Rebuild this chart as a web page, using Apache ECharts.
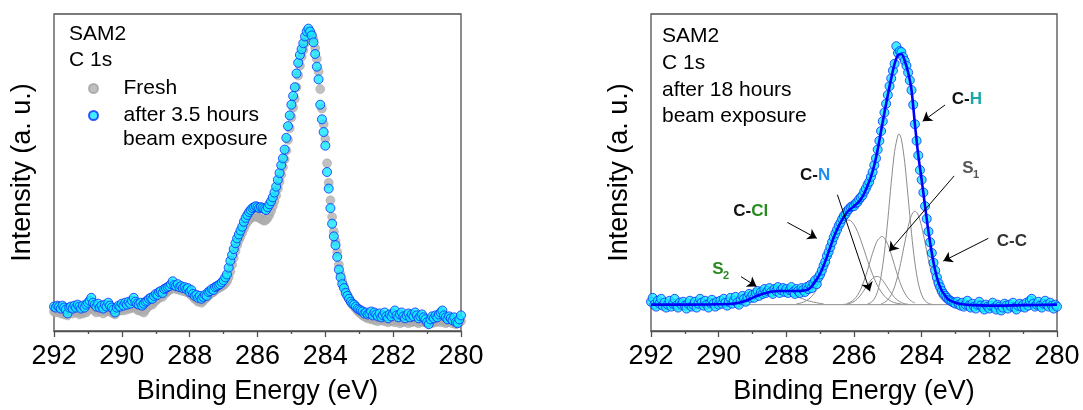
<!DOCTYPE html>
<html><head><meta charset="utf-8">
<script src="https://cdn.jsdelivr.net/npm/echarts@6/dist/echarts.min.js"></script>
<style>html,body{margin:0;padding:0;background:#fff}#c{width:1083px;height:410px}</style>
</head><body><div id="c"></div>
<script>
// ---------- sampling grid of the measured spectra (binding energy, eV) ----------
const energyStart = 292, energyStep = 0.05;
const xTicks = [292, 290, 288, 286, 284, 282, 280];

// ---------- left panel: SAM2 C 1s (intensity, a.u.) ----------
const freshC1s = [
 20,19,22,21,18,20,17,19,16,20, 21,18,20,22,19,17,20,18,21,19,
 22,24,25,23,21,19,22,20,21,18, 22,20,23,21,19,18,17,20,22,21,
 23,21,24,22,25,23,24,26,25,22, 21,23,20,19,22,24,26,28,27,30,
 31,33,34,36,35,38,39,41,42,43, 46,44,43,45,42,43,41,42,40,41,
 38,37,35,33,32,30,31,29,31,33, 34,36,38,39,40,42,43,44,45,46,
 47,49,51,55,61,68,75,82,88,93, 97,101,105,109,112,114,116,117,117,118,
 117,116,115,114,113,114,116,119,123,128, 133,139,146,153,160,168,176,185,196,208,
 219,229,238,250,262,272,281,288,295,301, 305,306,304,299,290,279,266,248,228,212,
 197,172,152,134,117,102,92,81,68,58, 51,46,41,37,33,30,27,25,23,21,
 19,18,16,15,14,13,14,12,13,11, 12,10,13,11,12,10,11,9,12,10,
 11,9,12,10,8,11,9,12,10,8, 11,9,10,12,9,8,10,11,9,10,
 8,9,10,8,11,9,10,12,9,11, 10,8,9,11,10,8,9,7,8,9,10
];
const after3h = [
 25,24,26,25,23,26,24,22,18,24, 25,23,26,24,27,25,23,26,24,27,
 29,31,34,29,27,25,28,24,26,23, 27,25,29,26,24,22,19,24,26,25,
 28,26,29,27,30,28,31,34,30,28, 27,29,26,28,30,31,33,34,33,36,
 38,37,40,41,39,43,44,45,46,48, 51,47,46,48,45,46,44,45,43,44,
 40,42,38,36,37,34,36,33,35,37, 36,40,41,43,42,45,46,47,48,50,
 52,55,58,65,72,78,84,90,95,99, 103,107,112,116,119,122,124,126,127,128,
 127,126,127,126,125,124,127,130,133,137, 142,148,155,162,170,177,186,198,210,221,
 232,241,250,264,275,283,289,295,302,307, 310,307,303,296,284,271,258,232,217,204,
 190,163,146,126,110,97,88,76,63,55, 48,44,39,36,33,30,28,27,25,23,
 22,21,20,18,19,17,18,20,16,19, 17,15,18,14,16,19,15,13,17,15,
 18,21,16,14,17,19,15,13,16,18, 14,17,15,19,16,13,15,17,14,12,
 9,7,12,15,13,16,14,17,19,21, 16,14,12,15,13,11,14,9,8,12,16
];

// ---------- right panel: after 18 h ----------
const after18h = [
 30,34,27,25,31,28,33,26,29,24, 27,31,25,28,33,26,24,29,27,30,
 26,23,28,31,25,27,30,24,28,33, 29,26,31,27,24,29,32,28,25,30,
 27,31,28,33,29,26,30,34,28,31, 35,29,27,32,36,33,30,35,38,34,
 37,34,39,41,36,40,38,43,39,41, 44,40,38,43,41,45,39,42,44,40,
 43,39,42,45,40,38,43,41,39,44, 42,40,45,43,47,44,49,52,48,55,
 58,62,67,71,77,81,86,91,96,100, 104,108,111,115,118,120,123,125,127,128,
 128,131,132,135,137,139,143,146,150,153, 158,163,170,177,186,195,205,215,224,233,
 242,251,259,267,274,292,285,287,286,281, 277,272,265,257,247,232,212,195,180,165,
 155,142,128,115,102,91,80,70,62,55, 49,45,41,38,36,34,32,31,30,29,
 28,30,27,26,29,25,27,31,26,24, 28,25,23,27,30,26,24,22,27,25,
 23,26,29,24,22,27,25,21,24,28, 26,23,27,25,29,24,22,26,28,25,
 27,24,29,26,31,33,28,25,27,30, 26,24,28,31,27,25,29,26,23,27,25
];
// fit envelope [eV, intensity]
const fitEnvelope = [[292,27],[291,27],[290,27.5],[289.6,28],[289.4,29],[289.2,31],[289.0,34],[288.8,37],[288.6,39],[288.4,40.5],[288.2,41],[288.0,41],[287.8,41],[287.6,41],[287.4,42],[287.3,44],[287.2,48],[287.1,53],[287.0,59],[286.9,67],[286.8,76],[286.7,86],[286.6,96],[286.5,104],[286.4,111],[286.3,117],[286.2,122],[286.1,125],[286.0,128],[285.9,131],[285.8,135],[285.7,141],[285.6,149],[285.5,158],[285.4,170],[285.3,186],[285.2,205],[285.1,224],[285.0,242],[284.9,259],[284.8,274],[284.7,283],[284.6,284],[284.5,277],[284.4,265],[284.3,247],[284.2,212],[284.1,180],[284.0,155],[283.9,128],[283.8,102],[283.7,80],[283.6,62],[283.5,49],[283.4,41],[283.3,36],[283.2,32],[283.0,29],[282.8,27.5],[282.5,26.5],[282,26],[281,26.5],[280,27]];
// background under the fit
const bgLevel = 27, bgFrom = 289.47, bgTo = 283.21;
// fitted components, intensity above background [eV, intensity]
const compCH = [[283.7,0.4],[283.8,1.4],[283.9,4],[284,10],[284.1,22],[284.2,42.8],[284.3,73.1],[284.4,110],[284.5,145.6],[284.6,169.6],[284.67,175],[284.7,174],[284.8,157],[284.9,125],[285,87.3],[285.1,53.8],[285.2,29.2],[285.3,13.9],[285.4,5.8],[285.5,2.2],[285.6,0.7]];
const compCC = [[283.2,1],[283.3,2.3],[283.4,5.1],[283.5,10.1],[283.6,18.4],[283.7,30.5],[283.8,46],[283.9,63.5],[284,79.9],[284.1,91.7],[284.2,96],[284.3,91.7],[284.4,79.9],[284.5,63.5],[284.6,46],[284.7,30.5],[284.8,18.4],[284.9,10.1],[285,5.1],[285.1,2.3],[285.2,1]];
const compS1 = [[284.2,1.7],[284.3,3.5],[284.4,6.7],[284.5,11.8],[284.6,19.1],[284.7,28.8],[284.8,40.1],[284.9,51.7],[285,61.8],[285.1,68.3],[285.18,70],[285.2,69.9],[285.3,66.2],[285.4,58.1],[285.5,47.2],[285.6,35.4],[285.7,24.7],[285.8,15.9],[285.9,9.5],[286,5.2],[286.1,2.7],[286.2,1.3]];
const compCN = [[284.4,0.4],[284.5,1],[284.6,2.1],[284.7,4.2],[284.8,7.4],[284.9,11.8],[285,17],[285.1,22.4],[285.2,26.7],[285.3,28.9],[285.4,28.3],[285.5,25.2],[285.6,20.3],[285.7,14.9],[285.8,9.9],[285.9,5.9],[286,3.2],[286.1,1.6],[286.2,0.7],[286.3,0.3]];
const compCCl = [[284.6,0.6],[284.7,1.2],[284.8,2],[284.9,3.5],[285,5.6],[285.1,8.8],[285.2,13.3],[285.3,19.1],[285.4,26.6],[285.5,35.5],[285.6,45.4],[285.7,55.9],[285.8,66.2],[285.9,75.2],[286,82.1],[286.1,86.1],[286.2,86.8],[286.3,84.1],[286.4,78.3],[286.5,70],[286.6,60.1],[286.7,49.6],[286.8,39.3],[286.9,30],[287,21.9],[287.1,15.4],[287.2,10.4],[287.3,6.8],[287.4,4.2],[287.5,2.5],[287.6,1.5],[287.7,0.8]];
const compS2 = [[286.9,0.9],[287,1.3],[287.1,1.9],[287.2,2.6],[287.3,3.5],[287.4,4.5],[287.5,5.8],[287.6,7.1],[287.7,8.5],[287.8,9.9],[287.9,11.2],[288,12.4],[288.1,13.2],[288.2,13.8],[288.3,14],[288.4,13.8],[288.5,13.2],[288.6,12.4],[288.7,11.2],[288.8,9.9],[288.9,8.5],[289,7.1],[289.1,5.8],[289.2,4.5],[289.3,3.5],[289.4,2.6],[289.47,2]];
// annotation arrows [from, to] in data coordinates
const arrows = [
  [[283.31,231.7],[283.97,215]],   // C-H
  [[283.04,159],[284.96,81.7]],    // S1
  [[282.03,95],[283.36,71.7]],     // C-C
  [[286.49,139.7],[285.53,40.7]],  // C-N
  [[287.97,111.3],[287.10,95]],    // C-Cl
  [[289.34,55.7],[288.88,45.7]]    // S2
];

// ---------- build ----------
const FONT = "'Liberation Sans', Arial, sans-serif";
const energyAt = i => +(energyStart - energyStep * i).toFixed(2);
const pairs = vals => vals.map((v, i) => [energyAt(i), v]);
const onBg = comp => comp.map(([e, v]) => [e, v + bgLevel]);

const axisColor = '#505050';
function xAx(gi) {
  return {
    type: 'value', gridIndex: gi, min: 280, max: 292, interval: 2, inverse: true,
    axisLine: {show: true, onZero: false, lineStyle: {color: axisColor, width: 1.3}},
    axisTick: {show: true, length: 6, lineStyle: {color: axisColor, width: 1.3}},
    minorTick: {show: true, splitNumber: 2, length: 3, lineStyle: {color: axisColor, width: 1.3}},
    axisLabel: {fontSize: 27, color: '#000', margin: 12, fontFamily: FONT,
      formatter: v => xTicks.includes(v) ? String(v) : ''},
    splitLine: {show: false}, minorSplitLine: {show: false},
    name: 'Binding Energy (eV)', nameLocation: 'middle', nameGap: 47,
    nameTextStyle: {fontSize: 27, color: '#000', fontFamily: FONT}
  };
}
function yAx(gi) {
  return {
    type: 'value', gridIndex: gi, min: 0, max: 325,
    axisLine: {show: false}, axisTick: {show: false}, axisLabel: {show: false}, splitLine: {show: false},
    name: 'Intensity (a. u.)', nameLocation: 'middle', nameGap: 18, nameRotate: 90,
    nameTextStyle: {fontSize: 27, color: '#000', fontFamily: FONT}
  };
}
const cyanStyle = {color: '#14e8ff', borderColor: '#0a2cff', borderWidth: 1};
const grayStyle = {color: '#b0b0b0', borderColor: '#a2a2a2', borderWidth: 0.6};
const compLine = (data) => ({
  type: 'line', xAxisIndex: 1, yAxisIndex: 1, data: onBg(data), smooth: 0.3,
  showSymbol: false, symbol: 'none', lineStyle: {color: '#8c8c8c', width: 1}, z: 2, silent: true
});

const chart = echarts.init(document.getElementById('c'), null, {renderer: 'canvas'});
const AFTER_NAME = 'after 3.5 hours beam exposure';

function label(x, y, parts, size) {
  return {
    type: 'text', x: x, y: y, silent: true,
    style: {
      text: parts.map((p, i) => '{s' + i + '|' + p[0] + '}').join(''),
      rich: Object.fromEntries(parts.map((p, i) => ['s' + i, {fill: p[1], color: p[1], fontSize: size || 17, fontWeight: 'bold', fontFamily: FONT}])),
      verticalAlign: 'middle', align: 'left'
    }
  };
}
function txt(x, y, s, size, weight, color) {
  return {type: 'text', x: x, y: y, silent: true,
    style: {text: s, fontSize: size, fontWeight: weight || 'normal', fontFamily: FONT, fill: color || '#000', verticalAlign: 'middle', align: 'left'}};
}

chart.setOption({
  animation: false,
  backgroundColor: '#fff',
  grid: [
    {left: 54, top: 14, width: 407, height: 325, show: true, borderColor: axisColor, borderWidth: 1.3, backgroundColor: 'transparent'},
    {left: 651, top: 14, width: 406, height: 325, show: true, borderColor: axisColor, borderWidth: 1.3, backgroundColor: 'transparent'}
  ],
  xAxis: [xAx(0), xAx(1)],
  yAxis: [yAx(0), yAx(1)],
  legend: {
    data: ['Fresh', AFTER_NAME], orient: 'vertical', left: 83, top: 73,
    itemWidth: 50, itemHeight: 9, itemGap: 6, icon: 'circle', selectedMode: false,
    formatter: n => n === AFTER_NAME ? 'after 3.5 hours' : n,
    textStyle: {fontSize: 21, color: '#000', fontFamily: FONT, lineHeight: 20}
  },
  graphic: [
    txt(69, 34, 'SAM2', 21), txt(69, 60, 'C 1s', 21), txt(123, 139, 'beam exposure', 21),
    txt(662, 36, 'SAM2', 21), txt(662, 63, 'C 1s', 21), txt(662, 90, 'after 18 hours', 21), txt(662, 116, 'beam exposure', 21),
    label(951.7, 99.5, [['C-', '#111'], ['H', '#1aa7a7']]),
    label(996.7, 241, [['C-C', '#333']]),
    label(800, 175.5, [['C-', '#111'], ['N', '#1e8ff0']]),
    label(733.3, 211.7, [['C-', '#111'], ['Cl', '#2a8a22']]),
    txt(962.3, 168.5, 'S', 17, 'bold', '#555'), txt(973, 174.5, '1', 11, 'bold', '#555'),
    txt(712.3, 269, 'S', 17, 'bold', '#2a8a22'), txt(723, 275.5, '2', 11, 'bold', '#2a8a22')
  ],
  series: [
    {name: 'Fresh', type: 'scatter', xAxisIndex: 0, yAxisIndex: 0, data: pairs(freshC1s),
      symbol: 'circle', symbolSize: 9, itemStyle: grayStyle, z: 2, clip: true, silent: true},
    {name: AFTER_NAME, type: 'scatter', xAxisIndex: 0, yAxisIndex: 0, data: pairs(after3h),
      symbol: 'circle', symbolSize: 9, itemStyle: cyanStyle, z: 3, clip: true, silent: true},
    compLine(compS2), compLine(compCCl), compLine(compCN), compLine(compS1), compLine(compCC), compLine(compCH),
    {type: 'line', xAxisIndex: 1, yAxisIndex: 1, data: [[bgFrom, bgLevel], [bgTo, bgLevel]], symbol: 'none',
      lineStyle: {color: '#8c8c8c', width: 1}, z: 2, silent: true},
    {name: 'after 18 h', type: 'scatter', xAxisIndex: 1, yAxisIndex: 1, data: pairs(after18h),
      symbol: 'circle', symbolSize: 9, itemStyle: cyanStyle, z: 3, clip: true, silent: true},
    {name: 'fit', type: 'line', xAxisIndex: 1, yAxisIndex: 1, data: fitEnvelope, smooth: 0.3, symbol: 'none',
      lineStyle: {color: '#0000ff', width: 2.6}, z: 4, silent: true},
    {name: 'arrows', type: 'line', xAxisIndex: 1, yAxisIndex: 1, data: [], z: 5, silent: true,
      markLine: {silent: true, symbol: ['none', 'arrow'], symbolSize: 9, label: {show: false},
        itemStyle: {color: '#000'}, emphasis: {disabled: true},
        lineStyle: {color: '#000', width: 1, type: 'solid'},
        data: arrows.map(([a, b]) => [{coord: a}, {coord: b}])}}
  ]
});
</script>
</body></html>
